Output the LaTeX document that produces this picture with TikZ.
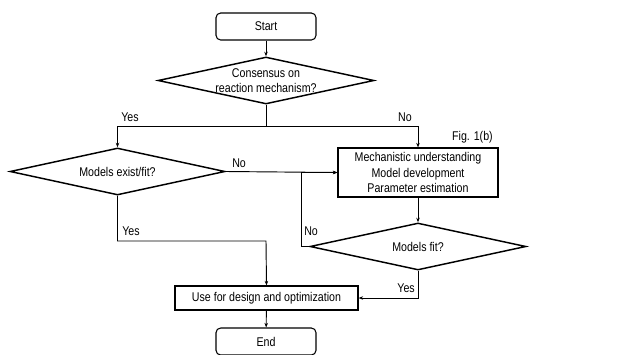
\documentclass[tikz,border=0pt]{standalone}
\usepackage{fontspec}
\setmainfont{Liberation Sans}[FakeStretch=0.84]
\usetikzlibrary{shapes.geometric,arrows.meta}

\tikzset{
  terminal/.style={draw,rounded corners=3.5pt,line width=0.8pt,minimum width=75pt,minimum height=20.25pt,inner sep=0pt},
  decision/.style={draw,diamond,aspect=4.5,line width=1.1pt,inner sep=0pt,align=center},
  process/.style={draw,rectangle,line width=0.9pt,inner sep=0pt,align=center},
  flow/.style={line width=0.7pt,-{Stealth[length=3.4pt,width=2.6pt]}},
  lbl/.style={inner sep=0.75pt}
}

\begin{document}
\begin{tikzpicture}[x=0.75pt,y=0.75pt,yscale=-1,xscale=1,font=\fontsize{9.5}{11.6}\selectfont]
\useasboundingbox (0,0) rectangle (620,354);

%Start / End
\node[terminal] (start) at (266,26.5) {Start};
\node[terminal] (end) at (266,341.5) {End};

%Decisions
\node[decision,minimum width=162pt,minimum height=35.25pt] (cons) at (266,80.5) {Consensus on\\reaction mechanism?};
\node[decision,minimum width=161.25pt,minimum height=35.25pt] (exist) at (117.5,171.5) {Models exist/fit?};
\node[decision,minimum width=162pt,minimum height=35.25pt] (fit) at (418,246.5) {Models fit?};

%Processes
\node[process,minimum width=120pt,minimum height=36.75pt] (mech) at (418,172.5) {Mechanistic understanding\\Model development\\Parameter estimation};
\node[process,minimum width=137.25pt,minimum height=18pt] (use) at (266.5,298) {Use for design and optimization};

%Helper points
\coordinate (split) at (266,126);
\coordinate (join) at (266,241);
\coordinate (loop) at (301,246.5);

%Connectors
\draw[flow] (start) -- (cons);
\draw[line width=0.7pt] (cons.south) -- (split);
\draw[flow] (split) -| (exist.north);
\draw[flow] (split) -| (mech.north);
\draw[flow] (exist.east) -- (mech.west);
\draw[flow] (mech) -- (fit);
\draw[flow] (fit.west) -- (loop) |- (mech.west);
\draw[flow] (exist.south) |- (join) -- (use.north);
\draw[flow] (fit.south) |- (use.east);
\draw[flow] (use) -- (end);

% Text Node
\node[lbl,anchor=west] (yes1) at (120,117) {Yes};
\node[lbl,anchor=east] (no1) at (413,117) {No};
\node[lbl,anchor=west] (no2) at (231,163) {No};
\node[lbl,anchor=west] (no3) at (303,231) {No};
\node[lbl,anchor=west] (yes2) at (121,231) {Yes};
\node[lbl,anchor=east] (yes3) at (416,288) {Yes};
\node[lbl,anchor=east] (fig) at (494,137) {Fig. 1(b)};

\end{tikzpicture}
\end{document}
